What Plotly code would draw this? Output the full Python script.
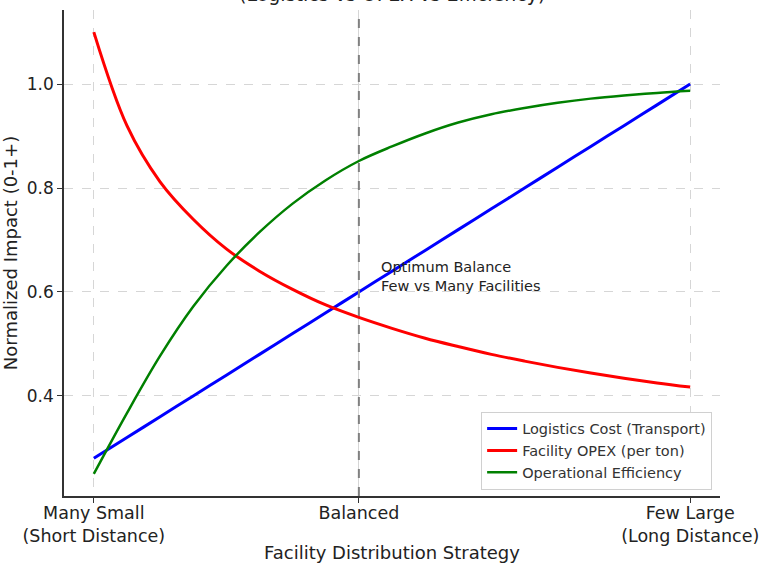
import plotly.graph_objects as go

# strategy axis: 1 = many small facilities, 10 = few large ones
strategy = [1.0, 1.5, 2.0, 2.5, 3.0, 3.5, 4.0, 4.5, 5.0, 5.5,
            6.0, 6.5, 7.0, 7.5, 8.0, 8.5, 9.0, 9.5, 10.0]

logistics_cost = [0.28, 0.32, 0.36, 0.40, 0.44, 0.48, 0.52, 0.56, 0.60, 0.64,
                  0.68, 0.72, 0.76, 0.80, 0.84, 0.88, 0.92, 0.96, 1.00]
facility_opex = [1.100, 0.920, 0.812, 0.740, 0.683, 0.640, 0.605, 0.575, 0.551, 0.530,
                 0.511, 0.495, 0.480, 0.467, 0.455, 0.444, 0.434, 0.425, 0.417]
op_efficiency = [0.250, 0.367, 0.477, 0.572, 0.650, 0.715, 0.770, 0.815, 0.852, 0.880,
                 0.905, 0.926, 0.942, 0.954, 0.964, 0.972, 0.978, 0.983, 0.987]

tick_vals = [1, 5, 10]
tick_text = ['Many Small<br>(Short Distance)', 'Balanced', 'Few Large<br>(Long Distance)']
balanced_x = 5
note_x, note_y = 5.3, 0.6

font = 'DejaVu Sans, sans-serif'

fig = go.Figure()
fig.add_trace(go.Scatter(x=strategy, y=logistics_cost, mode='lines', name='Logistics Cost (Transport)',
                         line=dict(color='#0000ff', width=3, shape='spline')))
fig.add_trace(go.Scatter(x=strategy, y=facility_opex, mode='lines', name='Facility OPEX (per ton)',
                         line=dict(color='#ff0000', width=3, shape='spline')))
fig.add_trace(go.Scatter(x=strategy, y=op_efficiency, mode='lines', name='Operational Efficiency',
                         line=dict(color='#008000', width=2.5, shape='spline')))

fig.add_shape(type='line', x0=balanced_x, x1=balanced_x, yref='paper', y0=0, y1=1,
              line=dict(color='#808080', width=2, dash='dash'), layer='above')

fig.add_annotation(x=note_x, y=note_y, text='Optimum Balance<br>Few vs Many Facilities',
                   showarrow=False, xanchor='left', yanchor='bottom', align='left', yshift=-4,
                   font=dict(family=font, size=14.5, color='#222222'))

# title is mostly cut off at the top of the reference
fig.add_annotation(x=0.5, xref='paper', y=1.004, yref='paper', yanchor='bottom', yshift=1,
                   text='(Logistics vs OPEX vs Efficiency)', showarrow=False,
                   font=dict(family=font, size=19, color='#222222'))

fig.update_layout(
    width=760, height=566,
    margin=dict(l=64, r=40, t=10, b=70),
    plot_bgcolor='white', paper_bgcolor='white',
    font=dict(family=font, size=15, color='#222222'),
    showlegend=True,
    legend=dict(x=0.988, y=0.013, xanchor='right', yanchor='bottom',
                bgcolor='white', bordercolor='#d0d0d0', borderwidth=1,
                font=dict(size=14.5, color='#333333'), tracegroupgap=0),
    xaxis=dict(range=[0.55, 10.45], tickvals=tick_vals, ticktext=tick_text, automargin=False,
               tickfont=dict(size=17.5), ticklabelstandoff=-5,
               showgrid=True, gridcolor='#d6d6d6', griddash='dash', gridwidth=1,
               showline=True, linecolor='#333333', linewidth=1.5,
               ticks='outside', ticklen=5, tickcolor='#333333', zeroline=False,
               title=dict(text='Facility Distribution Strategy', standoff=2)),
    yaxis=dict(range=[0.2075, 1.1425], tickvals=[0.4, 0.6, 0.8, 1.0], tickformat='.1f',
               automargin=False, tickfont=dict(size=17),
               showgrid=True, gridcolor='#d6d6d6', griddash='dash', gridwidth=1,
               showline=True, linecolor='#333333', linewidth=1.5,
               ticks='outside', ticklen=5, tickcolor='#333333', zeroline=False,
               title=dict(text='Normalized Impact (0-1+)', standoff=6)),
)

fig.write_html('out.html', config={'displayModeBar': False},
               post_script="document.body.style.margin='0';")
